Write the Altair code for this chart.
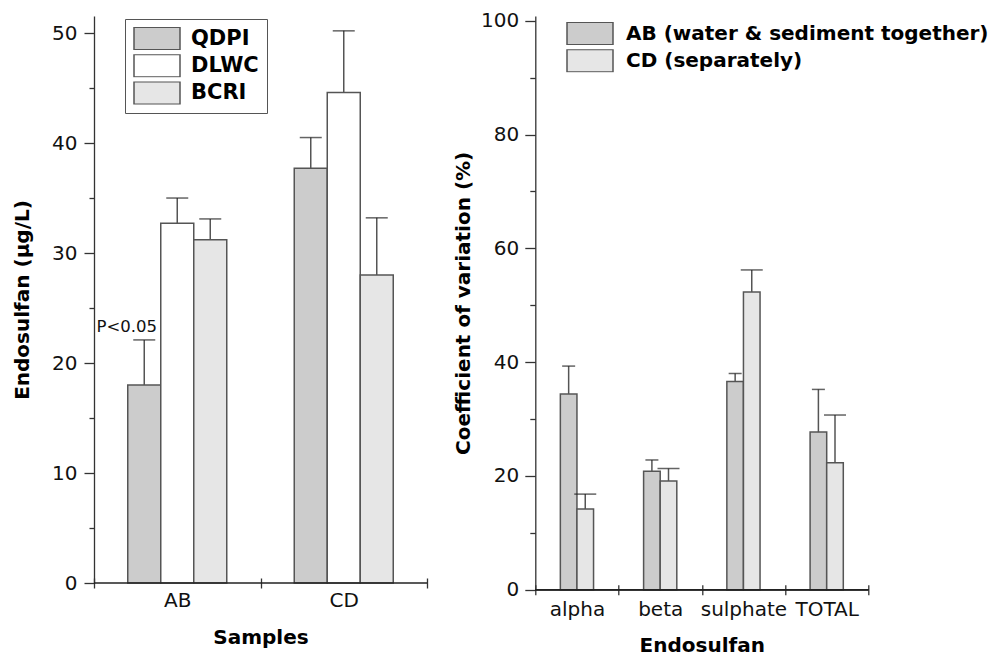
import altair as alt
import pandas as pd

# ---------------- data ----------------
samples = ["AB", "CD"]
labs = ["QDPI", "DLWC", "BCRI"]
qdpi_mean = [18.0, 37.7]
qdpi_top = [22.1, 40.5]
dlwc_mean = [32.7, 44.6]
dlwc_top = [35.0, 50.2]
bcri_mean = [31.2, 28.0]
bcri_top = [33.1, 33.2]

endosulfan = ["alpha", "beta", "sulphate", "TOTAL"]
methods = ["AB (water & sediment together)", "CD (separately)"]
ab_mean = [34.4, 20.8, 36.6, 27.7]
ab_top = [39.3, 22.8, 38.0, 35.2]
cd_mean = [14.2, 19.1, 52.3, 22.3]
cd_top = [16.8, 21.3, 56.2, 30.7]

note_text = ["P<0.05"]
note_sample = ["AB"]
note_lab = ["QDPI"]
note_value = [22.1]

lab_colors = ["#cccccc", "#ffffff", "#e6e6e6"]
method_colors = ["#cccccc", "#e6e6e6"]
method_cap_widths = [13, 22]

# ---------------- tables ----------------
left_rows = []
for lab, means, tops in zip(labs, [qdpi_mean, dlwc_mean, bcri_mean], [qdpi_top, dlwc_top, bcri_top]):
    for s, m, t in zip(samples, means, tops):
        left_rows.append({"sample": s, "lab": lab, "mean": m, "top": t})
left_df = pd.DataFrame(left_rows)
note_df = pd.DataFrame({"text": note_text, "sample": note_sample, "lab": note_lab, "value": note_value})

right_rows = []
for meth, means, tops in zip(methods, [ab_mean, cd_mean], [ab_top, cd_top]):
    for e, m, t in zip(endosulfan, means, tops):
        right_rows.append({"endo": e, "method": meth, "mean": m, "top": t})
right_df = pd.DataFrame(right_rows)

FONT = "DejaVu Sans"
RECT_PATH = "M-1,-0.489H1V0.489H-1Z"

# ---------------- left panel ----------------
xl = alt.X("sample:N", sort=samples, title="Samples",
           scale=alt.Scale(paddingInner=0, paddingOuter=0),
           axis=alt.Axis(labelAngle=0, tickBand="extent", domain=False, offset=-5,
                         tickSize=10, labelPadding=2, titlePadding=17))
xol = alt.XOffset("lab:N", sort=labs,
                  scale=alt.Scale(paddingInner=0, paddingOuter=0, range=[33.75, 132.75]))
yl_scale = alt.Scale(domain=[0, 51.55], nice=False, zero=True)

left_bars = alt.Chart(left_df).mark_bar(stroke="#555555", strokeWidth=1.5).encode(
    x=xl, xOffset=xol,
    y=alt.Y("mean:Q", scale=yl_scale, title="Endosulfan (µg/L)",
            axis=alt.Axis(values=list(range(0, 51, 5)),
                          labelExpr="datum.value % 10 === 0 ? datum.label : ''",
                          tickSize={"condition": {"test": "datum.value % 10 === 0", "value": 10}, "value": 5},
                          labelPadding=7, titlePadding=19)),
    fill=alt.Fill("lab:N", sort=labs, scale=alt.Scale(domain=labs, range=lab_colors),
                  legend=alt.Legend(orient="none", legendX=31, legendY=3, title=None,
                                    symbolType=RECT_PATH, symbolSize=2116,
                                    symbolStrokeColor="#555555", symbolStrokeWidth=1.5,
                                    symbolOpacity=1,
                                    labelFont=FONT, labelFontSize=21, labelFontWeight="bold",
                                    labelColor="black", labelOffset=10, clipHeight=23,
                                    rowPadding=4.3, padding=8, strokeColor="#555555",
                                    fillColor="white")),
)
left_err = alt.Chart(left_df).mark_rule(color="#555555", strokeWidth=1.5).encode(
    x=alt.X("sample:N", sort=samples), xOffset=alt.XOffset("lab:N", sort=labs),
    y="mean:Q", y2="top:Q")
left_cap = alt.Chart(left_df).mark_tick(color="#222222", thickness=1.5, size=22).encode(
    x=alt.X("sample:N", sort=samples), xOffset=alt.XOffset("lab:N", sort=labs),
    y="top:Q")
left_note = alt.Chart(note_df).mark_text(font=FONT, fontSize=16.5, color="#111111",
                                         align="center", baseline="alphabetic",
                                         dx=-17.5, dy=-7.5).encode(
    x=alt.X("sample:N", sort=samples), xOffset=alt.XOffset("lab:N", sort=labs),
    y="value:Q", text="text:N")
left_base = alt.Chart(note_df).mark_rule(color="#222222", strokeWidth=1.3).encode(y=alt.datum(0))

left = alt.layer(left_bars, left_err, left_cap, left_note, left_base).properties(width=333, height=567)

# ---------------- right panel ----------------
xr = alt.X("endo:N", sort=endosulfan, title="Endosulfan",
           scale=alt.Scale(paddingInner=0, paddingOuter=0),
           axis=alt.Axis(labelAngle=0, tickBand="extent", domain=False, offset=-5,
                         tickSize=10, labelPadding=5, titlePadding=16))
xor = alt.XOffset("method:N", sort=methods,
                  scale=alt.Scale(paddingInner=0, paddingOuter=0, range=[25.05, 58.25]))
yr_scale = alt.Scale(domain=[0, 100.83], nice=False, zero=True)

right_bars = alt.Chart(right_df).mark_bar(stroke="#555555", strokeWidth=1.5).encode(
    x=xr, xOffset=xor,
    y=alt.Y("mean:Q", scale=yr_scale, title="Coefficient of variation (%)",
            axis=alt.Axis(values=list(range(0, 101, 10)),
                          labelExpr="datum.value % 20 === 0 ? datum.label : ''",
                          tickSize={"condition": {"test": "datum.value % 20 === 0", "value": 10.5}, "value": 5.5},
                          labelPadding=6, titlePadding=7)),
    fill=alt.Fill("method:N", sort=methods, scale=alt.Scale(domain=methods, range=method_colors),
                  legend=alt.Legend(orient="none", legendX=30.7, legendY=6, title=None,
                                    symbolType=RECT_PATH, symbolSize=2116,
                                    symbolStrokeColor="#555555", symbolStrokeWidth=1.5,
                                    symbolOpacity=1,
                                    labelFont=FONT, labelFontSize=20, labelFontWeight="bold",
                                    labelColor="black", labelOffset=12, clipHeight=23,
                                    rowPadding=4.3, padding=0, labelLimit=0)),
)
right_err = alt.Chart(right_df).mark_rule(color="#555555", strokeWidth=1.5).encode(
    x=alt.X("endo:N", sort=endosulfan), xOffset=alt.XOffset("method:N", sort=methods),
    y="mean:Q", y2="top:Q")
right_caps = []
for meth, w in zip(methods, method_cap_widths):
    right_caps.append(
        alt.Chart(right_df).transform_filter(alt.datum.method == meth)
        .mark_tick(color="#222222", thickness=1.5, size=w).encode(
            x=alt.X("endo:N", sort=endosulfan), xOffset=alt.XOffset("method:N", sort=methods),
            y="top:Q")
    )
right_base = alt.Chart(right_df).mark_rule(color="#222222", strokeWidth=1.3).encode(y=alt.datum(0))

right = alt.layer(right_bars, right_err, *right_caps, right_base).properties(width=333, height=573.7)

chart = alt.hconcat(left, right, spacing=108.3, bounds="flush").resolve_scale(
    fill="independent", xOffset="independent"
).resolve_legend(fill="independent").properties(
    padding={"left": 4, "top": 2, "right": 0, "bottom": 0}
).configure_axis(
    labelFont=FONT, labelFontSize=20, labelColor="#111111",
    titleFont=FONT, titleFontSize=20, titleFontWeight="bold", titleColor="black",
    domainColor="#333333", tickColor="#333333", domainWidth=1.3, tickWidth=1.3, grid=False
).configure_view(strokeWidth=0)

chart.save("out.html", embed_options={"renderer": "svg", "actions": False})
